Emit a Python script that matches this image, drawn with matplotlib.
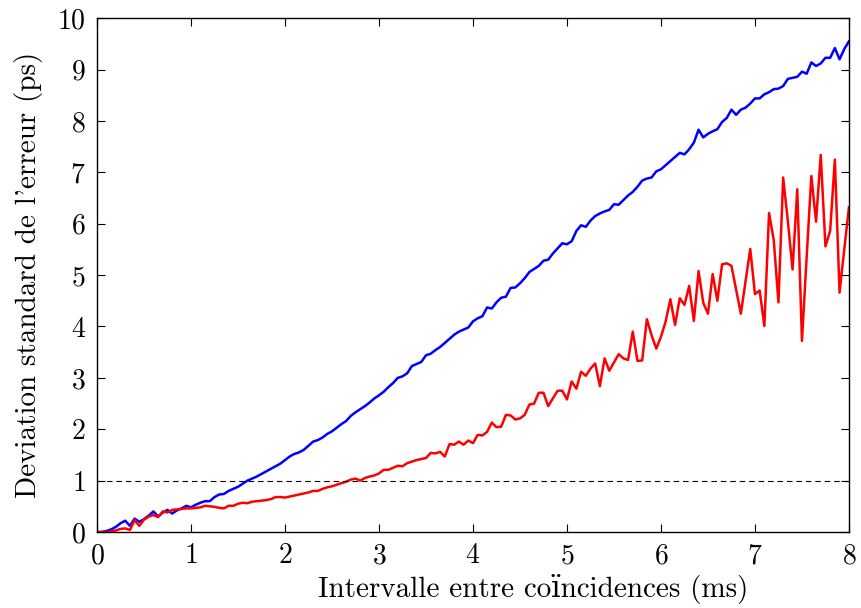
import matplotlib
matplotlib.use("Agg")
import matplotlib.pyplot as plt
import numpy as np

plt.rcParams['font.family'] = ['cmr10', 'DejaVu Serif']
plt.rcParams['mathtext.fontset'] = 'cm'
plt.rcParams['axes.unicode_minus'] = False
plt.rcParams['axes.formatter.use_mathtext'] = True

# intervalle entre coincidences (ms), pas de 0.05
t = np.arange(161) * 0.05

bleu = [0.00, 0.00, 0.02, 0.05, 0.10, 0.17, 0.22, 0.12, 0.26, 0.20,
        0.25, 0.32, 0.40, 0.30, 0.38, 0.43, 0.36, 0.42, 0.46, 0.51,
        0.48, 0.53, 0.57, 0.60, 0.60, 0.68, 0.73, 0.74, 0.80, 0.84,
        0.88, 0.94, 1.00, 1.04, 1.08, 1.13, 1.18, 1.23, 1.28, 1.33,
        1.40, 1.47, 1.52, 1.55, 1.60, 1.68, 1.76, 1.79, 1.84, 1.91,
        1.96, 2.03, 2.10, 2.16, 2.26, 2.33, 2.39, 2.45, 2.52, 2.60,
        2.66, 2.73, 2.82, 2.90, 3.00, 3.03, 3.09, 3.23, 3.27, 3.31,
        3.44, 3.47, 3.54, 3.60, 3.68, 3.76, 3.84, 3.90, 3.94, 3.98,
        4.10, 4.16, 4.20, 4.37, 4.35, 4.47, 4.56, 4.58, 4.75, 4.76,
        4.84, 4.94, 5.06, 5.12, 5.18, 5.28, 5.30, 5.42, 5.52, 5.62,
        5.60, 5.66, 5.86, 5.97, 5.94, 6.06, 6.15, 6.20, 6.24, 6.27,
        6.38, 6.37, 6.46, 6.55, 6.62, 6.72, 6.84, 6.88, 6.90, 7.02,
        7.06, 7.14, 7.22, 7.30, 7.38, 7.35, 7.45, 7.58, 7.83, 7.68,
        7.75, 7.80, 7.84, 7.98, 8.06, 8.22, 8.12, 8.22, 8.26, 8.34,
        8.44, 8.44, 8.52, 8.56, 8.62, 8.63, 8.68, 8.82, 8.84, 8.86,
        8.96, 8.92, 9.14, 9.07, 9.12, 9.23, 9.23, 9.42, 9.20, 9.40,
        9.55]

rouge = [0.00, 0.00, 0.00, 0.01, 0.03, 0.06, 0.07, 0.04, 0.23, 0.12,
         0.24, 0.30, 0.33, 0.29, 0.40, 0.38, 0.43, 0.44, 0.45, 0.46,
         0.46, 0.47, 0.48, 0.51, 0.50, 0.49, 0.47, 0.46, 0.51, 0.51,
         0.55, 0.57, 0.56, 0.59, 0.60, 0.61, 0.62, 0.64, 0.68, 0.68,
         0.67, 0.69, 0.71, 0.73, 0.75, 0.77, 0.80, 0.80, 0.84, 0.87,
         0.89, 0.92, 0.95, 0.98, 1.02, 1.04, 1.00, 1.05, 1.08, 1.10,
         1.14, 1.21, 1.21, 1.25, 1.29, 1.28, 1.34, 1.37, 1.40, 1.42,
         1.44, 1.54, 1.53, 1.56, 1.47, 1.71, 1.70, 1.76, 1.70, 1.78,
         1.73, 1.89, 1.88, 1.95, 2.13, 2.04, 2.05, 2.28, 2.27, 2.19,
         2.21, 2.28, 2.48, 2.50, 2.71, 2.71, 2.45, 2.60, 2.75, 2.75,
         2.58, 2.93, 2.79, 3.12, 3.04, 3.18, 3.28, 2.84, 3.38, 3.14,
         3.30, 3.46, 3.38, 3.35, 3.90, 3.33, 3.34, 4.14, 3.83, 3.57,
         3.80, 4.10, 4.53, 4.03, 4.55, 4.42, 4.79, 4.11, 5.08, 4.46,
         4.25, 5.02, 4.50, 5.21, 5.23, 5.18, 4.72, 4.25, 4.88, 5.51,
         4.63, 4.70, 4.01, 6.21, 5.68, 4.47, 6.90, 6.05, 5.11, 6.67,
         3.72, 5.35, 6.93, 6.04, 7.34, 5.56, 5.86, 7.25, 4.66, 5.50,
         6.32]

fig = plt.figure(figsize=(8.61, 6.08), dpi=100)
ax = fig.add_axes([0.1127, 0.125, 0.8733, 0.845])

ax.plot(t, bleu, color='b', lw=1.8)
ax.plot(t, rouge, color='r', lw=1.8)
ax.axhline(1, color='k', ls='--', lw=0.8, dashes=(5, 3.5))

ax.set_xlim(0, 8)
ax.set_ylim(0, 10)
ax.set_xticks(range(0, 9))
ax.set_yticks(range(0, 11))
ax.tick_params(direction='in', top=True, right=True, length=6, width=0.8,
               labelsize=20, pad=8)
for s in ax.spines.values():
    s.set_linewidth(1.0)

ax.set_xlabel("Intervalle entre coïncidences (ms)", fontsize=21, labelpad=3,
              x=0.58)
ax.set_ylabel("Deviation standard de l'erreur (ps)", fontsize=21, labelpad=10)

fig.savefig("out.png", dpi=100)
